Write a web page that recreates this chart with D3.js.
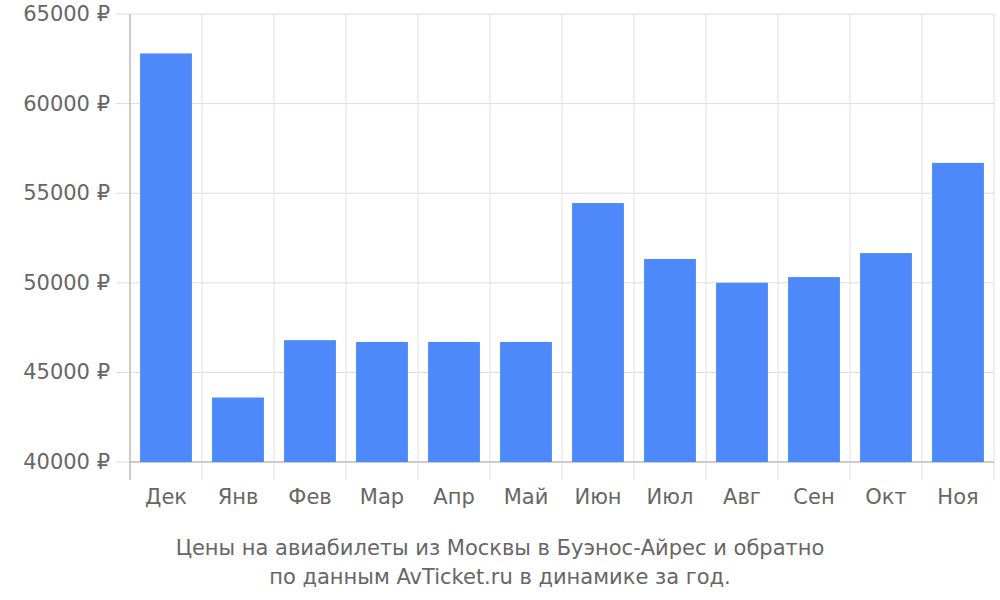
<!DOCTYPE html>
<html><head><meta charset="utf-8">
<script src="https://cdn.jsdelivr.net/npm/d3@7"></script>
<style>body{margin:0;background:#fff}text{font-family:"DejaVu Sans",sans-serif}</style>
</head><body><svg id="c" width="1000" height="600"></svg>
<script>
const categories=["Дек","Янв","Фев","Мар","Апр","Май","Июн","Июл","Авг","Сен","Окт","Ноя"];
const prices=[62800,43600,46800,46700,46700,46700,54450,51330,50000,50320,51660,56690];
const yTicks=[40000,45000,50000,55000,60000,65000];
const titleLines=["Цены на авиабилеты из Москвы в Буэнос-Айрес и обратно","по данным AvTicket.ru в динамике за год."];

const svg=d3.select("#c");
const L=130,R=994,T=14,B=462;
const x=d3.scaleBand().domain(categories).range([L,R]).paddingInner(0.28).paddingOuter(0.14);
const y=d3.scaleLinear().domain([40000,65000]).range([B,T]);
const step=x.step(), x0=L;
const grid="#dddddd";
// horizontal grid
svg.selectAll(".hg").data(yTicks).join("line").attr("x1",L-14).attr("x2",R).attr("y1",d=>y(d)).attr("y2",d=>y(d)).attr("stroke",grid);
// vertical grid + ticks
const bounds=d3.range(categories.length+1).map(i=>L+i*(R-L)/categories.length);
svg.selectAll(".vg").data(bounds).join("line").attr("x1",d=>d).attr("x2",d=>d).attr("y1",T).attr("y2",480).attr("stroke",grid);
svg.append("line").attr("x1",L).attr("x2",L).attr("y1",T).attr("y2",480).attr("stroke","#aaa");
svg.append("line").attr("x1",L).attr("x2",R).attr("y1",B).attr("y2",B).attr("stroke","#aaa");
// bars
svg.selectAll(".bar").data(prices).join("rect")
 .attr("x",(d,i)=>x(categories[i])).attr("width",x.bandwidth())
 .attr("y",d=>y(d)).attr("height",d=>B-y(d)).attr("fill","#4d89f9");
// labels
svg.selectAll(".yl").data(yTicks).join("text").attr("x",110).attr("y",d=>y(d)+7)
 .attr("text-anchor","end").attr("font-size",21).attr("fill","#666").text(d=>d+" ₽");
svg.selectAll(".xl").data(categories).join("text").attr("x",d=>x(d)+x.bandwidth()/2).attr("y",504)
 .attr("text-anchor","middle").attr("font-size",21).attr("fill","#666").text(d=>d);
svg.selectAll(".tl").data(titleLines).join("text").attr("x",500).attr("y",(d,i)=>555+i*29)
 .attr("text-anchor","middle").attr("font-size",21).attr("fill","#666").text(d=>d);
</script></body></html>
